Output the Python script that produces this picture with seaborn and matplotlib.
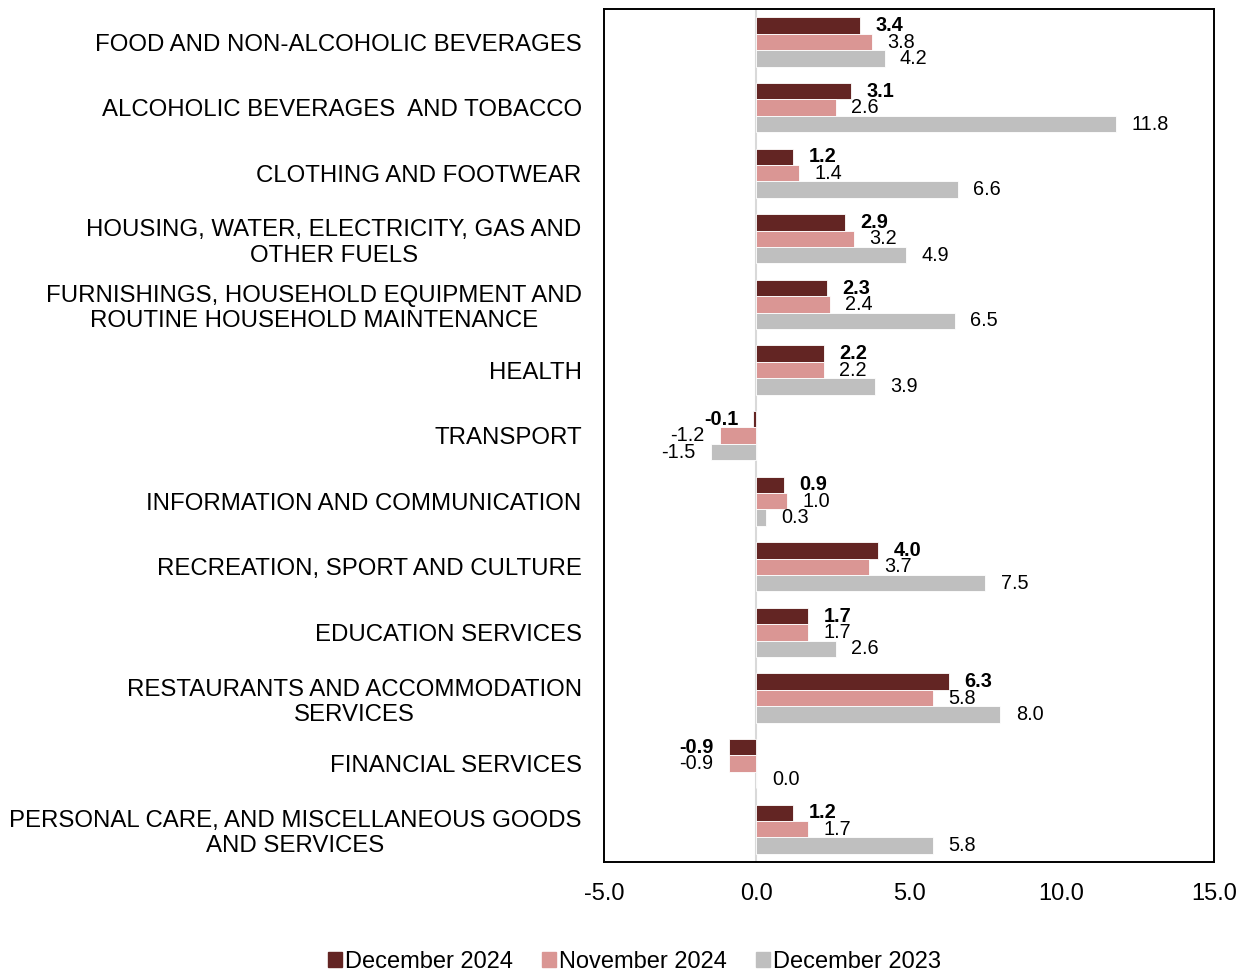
import pandas as pd
import seaborn as sns
import matplotlib.pyplot as plt

categories = [
    "FOOD AND NON-ALCOHOLIC BEVERAGES",
    "ALCOHOLIC BEVERAGES  AND TOBACCO",
    "CLOTHING AND FOOTWEAR",
    "HOUSING, WATER, ELECTRICITY, GAS AND\nOTHER FUELS",
    "FURNISHINGS, HOUSEHOLD EQUIPMENT AND\nROUTINE HOUSEHOLD MAINTENANCE",
    "HEALTH",
    "TRANSPORT",
    "INFORMATION AND COMMUNICATION",
    "RECREATION, SPORT AND CULTURE",
    "EDUCATION SERVICES",
    "RESTAURANTS AND ACCOMMODATION\nSERVICES",
    "FINANCIAL SERVICES",
    "PERSONAL CARE, AND MISCELLANEOUS GOODS\nAND SERVICES",
]
series = ["December 2024", "November 2024", "December 2023"]
dec_2024 = [3.4, 3.1, 1.2, 2.9, 2.3, 2.2, -0.1, 0.9, 4.0, 1.7, 6.3, -0.9, 1.2]
nov_2024 = [3.8, 2.6, 1.4, 3.2, 2.4, 2.2, -1.2, 1.0, 3.7, 1.7, 5.8, -0.9, 1.7]
dec_2023 = [4.2, 11.8, 6.6, 4.9, 6.5, 3.9, -1.5, 0.3, 7.5, 2.6, 8.0, 0.0, 5.8]
colors = ["#632523", "#DA9694", "#BFBFBF"]

df = pd.DataFrame({
    "category": categories * 3,
    "series": [s for s in series for _ in categories],
    "value": dec_2024 + nov_2024 + dec_2023,
})

sns.set_style("white")
plt.rcParams["font.family"] = ["Liberation Sans", "DejaVu Sans"]
plt.rcParams["text.color"] = "black"
plt.rcParams["xtick.color"] = "black"
plt.rcParams["ytick.color"] = "black"

fig = plt.figure(figsize=(12.44, 9.74), dpi=100)
ax = fig.add_axes([0.4855, 0.115, 0.4904, 0.8755])

sns.barplot(data=df, y="category", x="value", hue="series", hue_order=series,
            palette=colors, orient="h", width=0.75, ax=ax, legend=True,
            edgecolor="white", linewidth=0.6, saturation=1)

for i, cont in enumerate(ax.containers):
    ax.bar_label(cont, fmt="%.1f", padding=11, fontsize=14.3, color="black",
                 fontweight="bold" if i == 0 else "normal")

ax.axvline(0, color="#D9D9D9", lw=1.5, zorder=0)
ax.set_xlim(-5, 15)
ax.set_xticks([-5, 0, 5, 10, 15])
ax.set_xticklabels(["%.1f" % v for v in [-5, 0, 5, 10, 15]])
ax.set_xlabel("")
ax.set_ylabel("")
ax.tick_params(axis="x", length=0, labelsize=17, pad=15)
ax.tick_params(axis="y", length=0, labelsize=17.3, pad=16)
for lbl in ax.get_yticklabels():
    lbl.set_multialignment("center")
for sp in ax.spines.values():
    sp.set_color("black")
    sp.set_linewidth(1.4)

ax.get_legend().remove()
handles = [plt.Rectangle((0, 0), 1, 1, color=c) for c in colors]
fig.legend(handles, series, loc="center", bbox_to_anchor=(0.51, 0.012),
           ncol=3, frameon=False, fontsize=17, handlelength=0.6,
           handleheight=0.6, handletextpad=0.15, columnspacing=1.2)

fig.savefig("out.png", dpi=100)
